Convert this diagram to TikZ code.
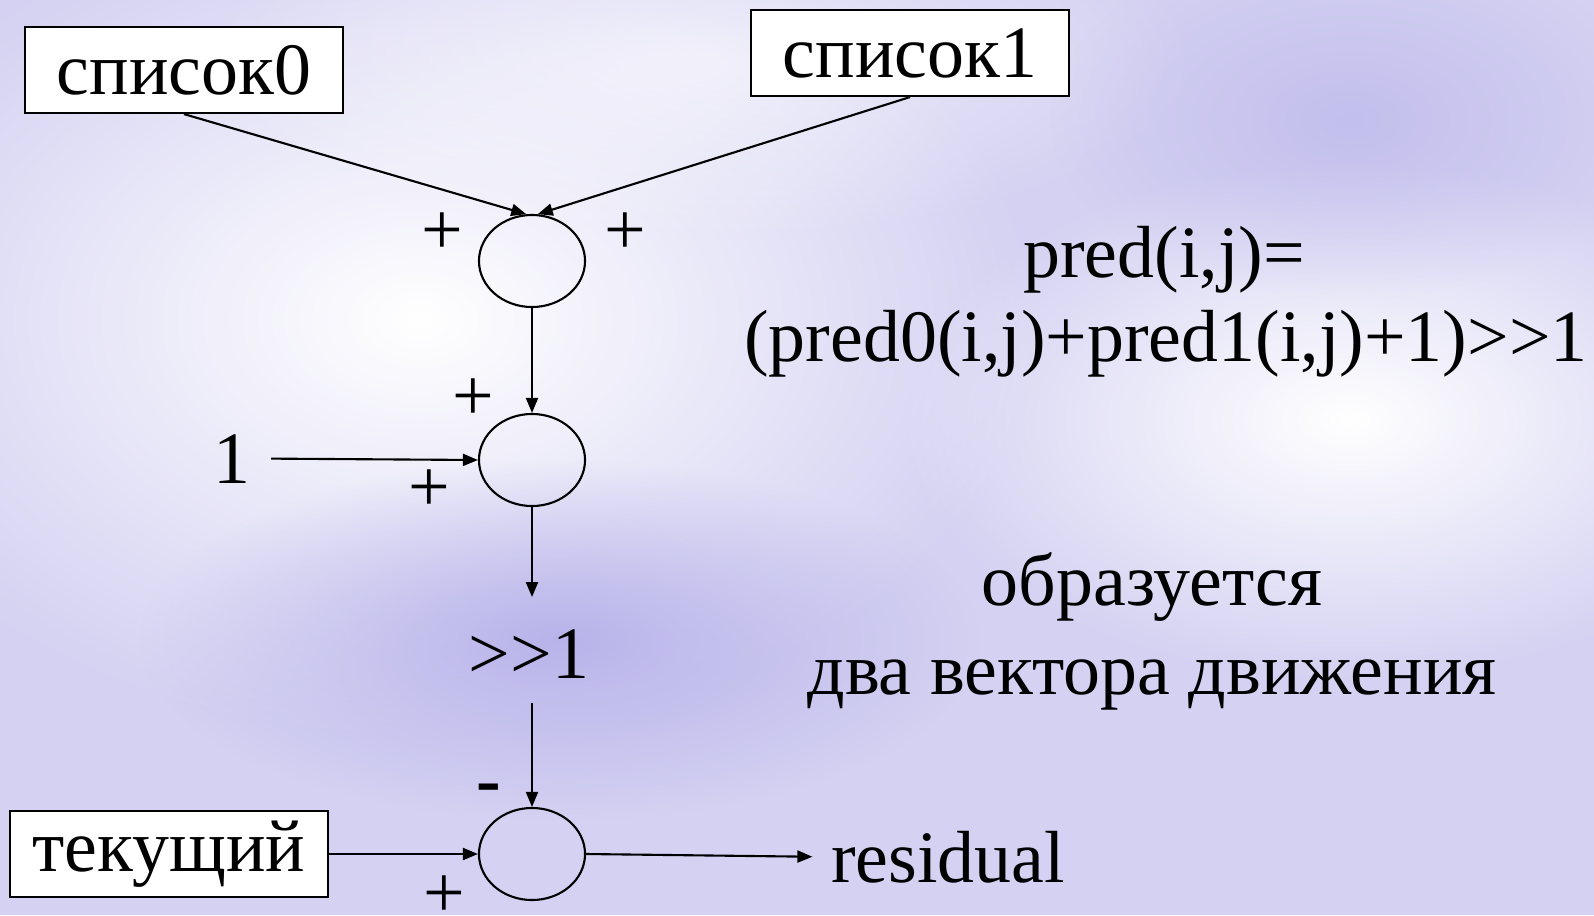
\documentclass[tikz,border=0pt]{standalone}
\usepackage{fontspec}
\setmainfont{Liberation Serif}
\usetikzlibrary{shapes.geometric,arrows.meta,fadings}

\definecolor{bglav}{RGB}{212,209,242}
\definecolor{bgdeep}{RGB}{184,179,234}

\tikzfading[name=softspot,inner color=transparent!0,outer color=transparent!100]

\tikzset{
  listbox/.style={draw=black,fill=white,line width=0.6pt,minimum width=3.17cm,minimum height=0.86cm,inner sep=0pt,font=\fontsize{21}{25}\selectfont},
  sumnode/.style={ellipse,draw=black,line width=0.6pt,minimum width=1.06cm,minimum height=0.92cm,inner sep=0pt},
  signtxt/.style={font=\fontsize{21}{25}\selectfont,inner sep=0pt},
  plaintxt/.style={font=\fontsize{21}{25}\selectfont,inner sep=0pt,anchor=base},
  flow/.style={line width=0.6pt,-{Triangle[length=0.15cm,width=0.12cm]}}
}

\begin{document}
\begin{tikzpicture}[x=0.01cm,y=-0.01cm]
\useasboundingbox (0,0) rectangle (1594,915);

% Draw the background
\fill[bglav] (0,0) rectangle (1594,915);
\fill[white,path fading=softspot] (420,320) ellipse (620 and 420);
\fill[white,path fading=softspot] (1350,420) ellipse (450 and 260);
\fill[white,path fading=softspot,opacity=0.6] (700,60) ellipse (500 and 180);
\fill[bgdeep,path fading=softspot] (560,640) ellipse (420 and 180);
\fill[bgdeep,path fading=softspot,opacity=0.6] (1350,120) ellipse (300 and 180);

% Draw the boxes
\node[listbox] (l0) at (184,70) {список0};
\node[listbox] (l1) at (910,53) {список1};
\node[listbox] (tek) at (169,854) {текущий};

% Draw the adders
\node[sumnode] (e1) at (532,261) {};
\node[sumnode] (e2) at (532,460) {};
\node[sumnode] (e3) at (532,854) {};

% Draw the texts
\node[plaintxt] (one) at (232,483) {1};
\node[plaintxt] (shift) at (529,678) {>{}>1};
\node[plaintxt] (res) at (948,882) {residual};
\node[plaintxt] (f1) at (1164,277) {pred(i,j)=};
\node[plaintxt] (f2) at (1166,361) {(pred0(i,j)+pred1(i,j)+1)>{}>1};
\node[plaintxt] (n1) at (1152,605) {образуется};
\node[plaintxt] (n2) at (1152,694) {два вектора движения};

% Draw the signs
\node[signtxt] (p1) at (442,234) {+};
\node[signtxt] (p2) at (625,234) {+};
\node[signtxt] (p3) at (473,400) {+};
\node[signtxt] (p4) at (429,491) {+};
\node[signtxt] (p5) at (444,897) {+};
\node[signtxt] (m1) at (489,794) {\textbf{-}};

% Draw the arrows
\coordinate (d1) at (532,597);
\coordinate (d2) at (532,703);
\draw[flow] (l0.south) -- (e1.97);
\draw[flow] (l1.south) -- (e1.83);
\draw[flow] (e1.south) -- (e2.north);
\draw[flow] ([xshift=0.2cm]one.east) -- (e2.west);
\draw[flow] (e2.south) -- (d1);
\draw[flow] (d2) -- (e3.north);
\draw[flow] (tek.east) -- (e3.west);
\draw[flow] (e3.east) -- ([xshift=-0.18cm]res.west);

\end{tikzpicture}
\end{document}
